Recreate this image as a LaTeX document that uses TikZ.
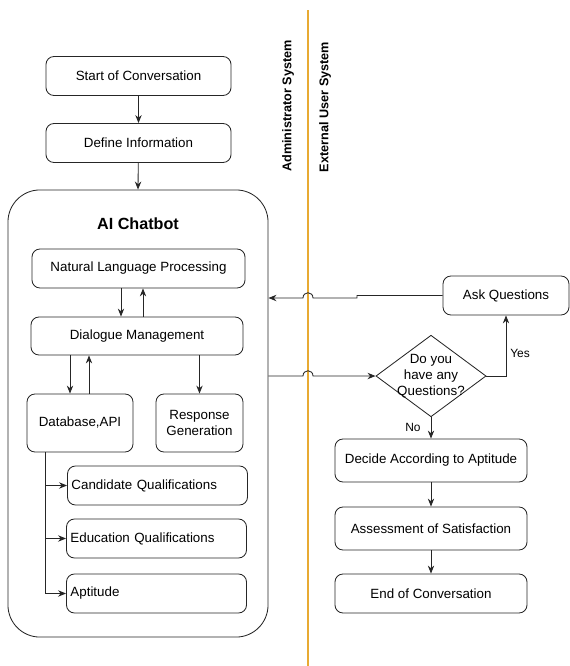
\documentclass[tikz,border=0pt]{standalone}
\usepackage{fontspec}
\setmainfont{Liberation Sans}
\usetikzlibrary{arrows.meta,positioning,shapes.geometric,calc}

\definecolor{laneorange}{RGB}{232,170,50}

\begin{document}
\begin{tikzpicture}[x=0.025cm, y=-0.025cm,
  stepbox/.style={draw=black!85, line width=0.6pt, rounded corners=2mm, fill=white, align=center, font=\fontsize{9.5}{11.5}\selectfont, minimum height=0.975cm},
  listbox/.style={stepbox, align=left, text width=4.3cm, inner xsep=0.1cm},
  decision/.style={draw=black!85, line width=0.6pt, diamond, aspect=1.35, inner sep=-0.09cm, align=center, font=\fontsize{9.5}{11.5}\selectfont},
  lane/.style={rotate=90, font=\fontsize{9}{11}\selectfont\bfseries},
  flow/.style={line width=0.6pt, black!85, -{Stealth[length=2mm,width=1.6mm]}}
]
  \useasboundingbox (0,0) rectangle (570,666);

  % swimlane divider
  \draw[laneorange, line width=1.2pt] (308,10) -- (308,666);
  \node[lane] (admin) at (288,106) {Administrator System};
  \node[lane] (extern) at (325,107) {External User System};

  \node[stepbox, minimum width=4.625cm] (start) at (138.5,76) {Start of Conversation};
  \node[stepbox, minimum width=4.625cm] (define) at (138.5,143) {Define Information};

  % chatbot container
  \node[draw=black!85, line width=0.6pt, rounded corners=0.8cm, minimum width=6.5cm, minimum height=11.175cm] (chatbot) at (138,413.5) {};
  \node[font=\fontsize{11.5}{13}\selectfont\bfseries] (title) at (138,224) {AI Chatbot};

  \node[stepbox, minimum width=5.325cm] (nlp) at (138.5,268.5) {Natural Language Processing};
  \node[stepbox, minimum width=5.3cm, minimum height=0.95cm] (dm) at (137,336) {Dialogue Management};
  \node[stepbox, minimum width=2.65cm, minimum height=1.45cm] (db) at (80,423) {Database,API};
  \node[stepbox, minimum width=2.175cm, minimum height=1.45cm] (resp) at (199.5,423) {Response\\Generation};
  \node[listbox] (cand) at (157.5,485.5) {Candidate Qualifications};
  \node[listbox] (edu) at (156.5,538.5) {Education Qualifications};
  \node[listbox] (apt) at (156.5,593.5) {Aptitude};

  \coordinate (nlpdown) at (121,0);
  \coordinate (nlpup) at (143,0);
  \coordinate (dbdown) at (70,0);
  \coordinate (dbup) at (89,0);
  \coordinate (tap) at (45,0);

  \draw[flow] (start) -- (define);
  \draw[flow] (define) -- (chatbot.north);
  \draw[flow] (nlpdown |- nlp.south) -- (nlpdown |- dm.north);
  \draw[flow] (nlpup |- dm.north) -- (nlpup |- nlp.south);
  \draw[flow] (dbdown |- dm.south) -- (dbdown |- db.north);
  \draw[flow] (dbup |- db.north) -- (dbup |- dm.south);
  \draw[flow] (resp.north |- dm.south) -- (resp.north);
  \draw[line width=0.6pt, black!85] (tap |- db.south) -- (tap |- apt.west);
  \foreach \item in {cand, edu, apt}
    \draw[flow] (tap |- \item.west) -- (\item.west);

  % external user side
  \node[stepbox, minimum width=3.15cm] (ask) at (506,295.5) {Ask Questions};
  \node[decision] (quest) at (431,376) {Do you\\have any\\Questions?};
  \node[stepbox, minimum width=4.8cm, minimum height=1.075cm] (decide) at (431,460.5) {Decide According to Aptitude};
  \node[stepbox, minimum width=4.8cm, minimum height=1.075cm] (assess) at (431,528.5) {Assessment of Satisfaction};
  \node[stepbox, minimum width=4.8cm] (finish) at (431,593.5) {End of Conversation};

  \coordinate (hopA) at (303,298);
  \coordinate (hopB) at (303,376);

  \draw[flow] (ask.west) -- (357,295.5) -- (357,298) -- (313,298)
    .. controls (313,291) and (303,291) .. (hopA) -- (chatbot.east |- hopA);
  \draw[flow] (chatbot.east |- hopB) -- (hopB)
    .. controls (303,369) and (313,369) .. (313,376) -- (quest.west);
  \draw[flow] (quest.east) -| (ask.south);
  \node[font=\fontsize{8.5}{10}\selectfont] (yes) at (520,353) {Yes};
  \draw[flow] (quest.south) -- (decide.north);
  \node[font=\fontsize{8.5}{10}\selectfont] (no) at (413,427) {No};
  \draw[flow] (decide) -- (assess);
  \draw[flow] (assess) -- (finish);
\end{tikzpicture}
\end{document}
